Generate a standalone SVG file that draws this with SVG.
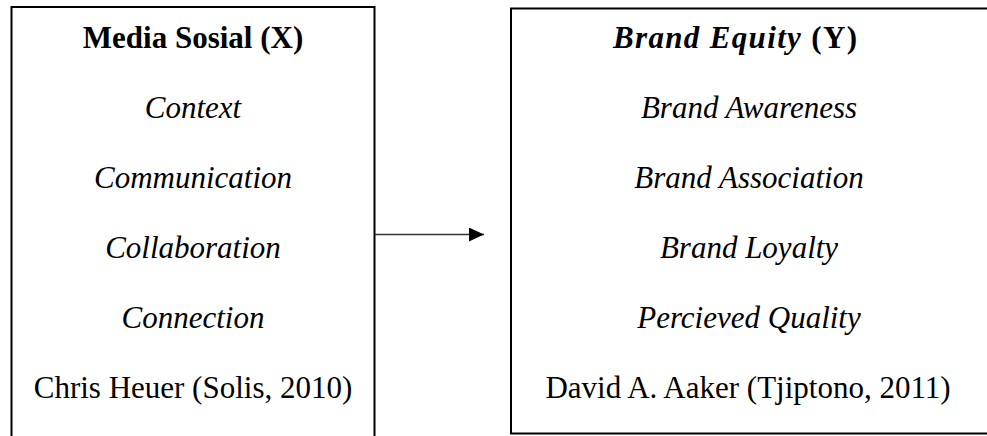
<svg xmlns="http://www.w3.org/2000/svg" width="987" height="436" viewBox="0 0 987 436">
<style>
.box{fill:#fff;stroke:#000;stroke-width:2}
text{font-family:"Liberation Serif","Times New Roman",serif;font-size:31px;fill:#000;text-anchor:middle}
.b{font-weight:bold}
.i{font-style:italic}
.conn{stroke:#333;stroke-width:1.3;fill:none}
</style>
<defs>
<marker id="ah" viewBox="0 0 15 14" refX="15" refY="7" markerWidth="15" markerHeight="14" markerUnits="userSpaceOnUse" orient="auto">
<path d="M0,0 L15,7 L0,14 Z" fill="#000"/>
</marker>
</defs>
<rect width="987" height="436" fill="#fff"/>
<g id="media-sosial">
<rect class="box" x="11.5" y="7" width="363" height="440"/>
<text class="b" x="193" y="48">Media Sosial (X)</text>
<text class="i" x="193" y="118">Context</text>
<text class="i" x="193" y="188">Communication</text>
<text class="i" x="193" y="258">Collaboration</text>
<text class="i" x="193" y="328">Connection</text>
<text x="193" y="398">Chris Heuer (Solis, 2010)</text>
</g>
<g id="brand-equity">
<rect class="box" x="511" y="8.5" width="490" height="425"/>
<text class="b" x="735" y="48" textLength="244" lengthAdjust="spacing"><tspan class="i">Brand Equity</tspan> (Y)</text>
<text class="i" x="749" y="118">Brand Awareness</text>
<text class="i" x="749" y="188">Brand Association</text>
<text class="i" x="749" y="258">Brand Loyalty</text>
<text class="i" x="749" y="328">Percieved Quality</text>
<text x="748" y="398">David A. Aaker (Tjiptono, 2011)</text>
</g>
<g id="connectors">
<line class="conn" x1="375" y1="234.5" x2="484" y2="234.5" marker-end="url(#ah)"/>
</g>
</svg>
